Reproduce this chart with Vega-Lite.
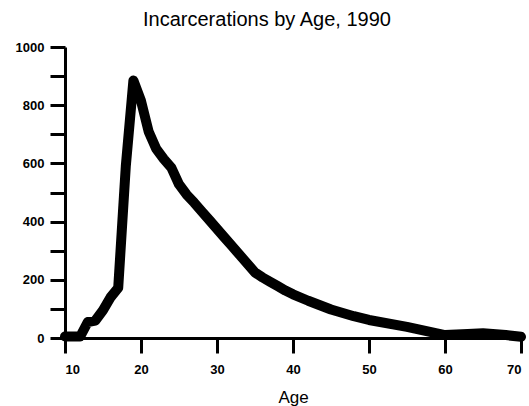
{
  "$schema": "https://vega.github.io/schema/vega-lite/v6.json",
  "autosize": "none",
  "width": 456,
  "height": 291,
  "padding": {"left": 65, "top": 47, "right": 8, "bottom": 68},
  "background": "white",
  "config": {
    "view": {"stroke": null},
    "font": "Liberation Sans"
  },
  "title": {
    "text": "Incarcerations by Age, 1990",
    "font": "Liberation Sans",
    "fontSize": 20,
    "fontWeight": "normal",
    "color": "black",
    "frame": "group",
    "anchor": "middle",
    "dx": -26,
    "baseline": "alphabetic",
    "offset": -5
  },
  "data": {
    "values": [
      {"age": 10, "n": 5}, {"age": 11, "n": 5}, {"age": 12, "n": 5},
      {"age": 13, "n": 55}, {"age": 14, "n": 60}, {"age": 15, "n": 95},
      {"age": 16, "n": 140}, {"age": 17, "n": 172}, {"age": 18, "n": 590},
      {"age": 19, "n": 885}, {"age": 20, "n": 815}, {"age": 21, "n": 710},
      {"age": 22, "n": 650}, {"age": 23, "n": 615}, {"age": 24, "n": 585},
      {"age": 25, "n": 528}, {"age": 26, "n": 493}, {"age": 27, "n": 465},
      {"age": 28, "n": 435}, {"age": 29, "n": 405}, {"age": 30, "n": 375},
      {"age": 31, "n": 345}, {"age": 32, "n": 315}, {"age": 33, "n": 285},
      {"age": 34, "n": 255}, {"age": 35, "n": 225}, {"age": 36, "n": 208},
      {"age": 37, "n": 193}, {"age": 38, "n": 178}, {"age": 39, "n": 163},
      {"age": 40, "n": 150}, {"age": 42, "n": 128}, {"age": 45, "n": 98},
      {"age": 48, "n": 75}, {"age": 50, "n": 62}, {"age": 55, "n": 38},
      {"age": 60, "n": 10}, {"age": 63, "n": 14}, {"age": 65, "n": 16},
      {"age": 68, "n": 10}, {"age": 70, "n": 4}
    ]
  },
  "mark": {
    "type": "line",
    "color": "black",
    "strokeWidth": 10,
    "strokeJoin": "round",
    "strokeCap": "round"
  },
  "encoding": {
    "x": {
      "field": "age",
      "type": "quantitative",
      "scale": {"domain": [10, 70], "nice": false, "zero": false},
      "axis": {
        "title": "Age",
        "values": [10, 20, 30, 40, 50, 60, 70],
        "grid": false,
        "domainColor": "black",
        "domainWidth": 3,
        "tickColor": "black",
        "tickWidth": 3,
        "tickSize": 15,
        "labelFont": "Liberation Sans",
        "labelFontSize": 13,
        "labelFontWeight": "bold",
        "labelColor": "black",
        "labelPadding": 10,
        "titleFont": "Liberation Sans",
        "titleFontSize": 17,
        "titleFontWeight": "normal",
        "titleColor": "black",
        "titlePadding": 13
      }
    },
    "y": {
      "field": "n",
      "type": "quantitative",
      "scale": {"domain": [0, 1000], "nice": false},
      "axis": {
        "title": null,
        "values": [0, 100, 200, 300, 400, 500, 600, 700, 800, 900, 1000],
        "labelExpr": "datum.value % 200 === 0 ? datum.value : ''",
        "grid": false,
        "domainColor": "black",
        "domainWidth": 3,
        "tickColor": "black",
        "tickWidth": 3,
        "tickSize": 15,
        "labelFont": "Liberation Sans",
        "labelFontSize": 13,
        "labelFontWeight": "bold",
        "labelColor": "black",
        "labelPadding": 6
      }
    }
  }
}
